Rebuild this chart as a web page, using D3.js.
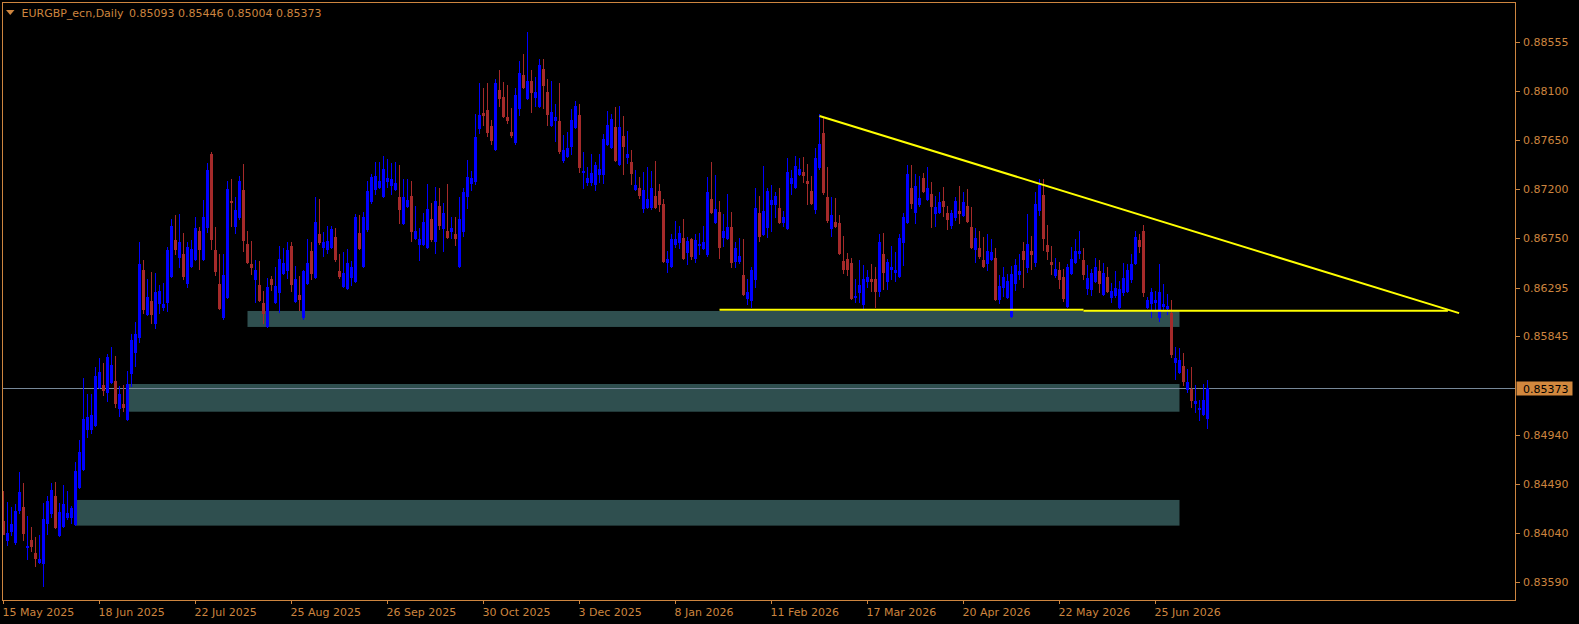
<!DOCTYPE html>
<html>
<head>
<meta charset="utf-8">
<script src="https://cdn.jsdelivr.net/npm/d3@7"></script>
<style>
  html, body { margin: 0; padding: 0; background: #000; overflow: hidden; }
  svg { display: block; }
  text { font-family: "DejaVu Sans", sans-serif; font-size: 11px; }
</style>
</head>
<body>
<svg id="chart" width="1579" height="624"></svg>
<script>
var symbol = 'EURGBP_ecn,Daily';

// daily OHLC, one entry per bar, oldest first (bar 0 = 15 May 2025)
var opens = [
  0.8415,0.8397,0.8406,0.8395,0.8425,0.8428,0.8391,0.8397,0.8385,0.8377,
  0.8376,0.8413,0.8422,0.8438,0.8402,0.8410,0.8418,0.8418,0.8412,0.8446,
  0.8463,0.8499,0.8499,0.8503,0.8538,0.8540,0.8533,0.8543,0.8544,0.8519,
  0.8522,0.8509,0.8551,0.8570,0.8584,0.8646,0.8605,0.8617,0.8597,0.8615,
  0.8612,0.8616,0.8640,0.8673,0.8658,0.8660,0.8634,0.8649,0.8656,0.8682,
  0.8656,0.8685,0.8752,0.8664,0.8633,0.8602,0.8621,0.8709,0.8686,0.8694,
  0.8719,0.8670,0.8651,0.8637,0.8632,0.8615,0.8594,0.8637,0.8616,0.8625,
  0.8643,0.8646,0.8668,0.8617,0.8623,0.8602,0.8634,0.8663,0.8639,0.8679,
  0.8667,0.8665,0.8667,0.8676,0.8645,0.8631,0.8629,0.8639,0.8636,0.8680,
  0.8649,0.8683,0.8709,0.8720,0.8722,0.8714,0.8728,0.8724,0.8720,0.8713,
  0.8689,0.8705,0.8714,0.8675,0.8670,0.8670,0.8667,0.8693,0.8672,0.8705,
  0.8684,0.8682,0.8682,0.8679,0.8649,0.8682,0.8714,0.8726,0.8728,0.8776,
  0.8790,0.8793,0.8778,0.8757,0.8811,0.8805,0.8786,0.8773,0.8763,0.8795,
  0.8825,0.8804,0.8820,0.8805,0.8797,0.8831,0.8809,0.8779,0.8784,0.8783,
  0.8747,0.8751,0.8760,0.8777,0.8788,0.8736,0.8727,0.8727,0.8725,0.8734,
  0.8734,0.8762,0.8759,0.8777,0.8743,0.8769,0.8750,0.8745,0.8720,0.8721,
  0.8703,0.8704,0.8704,0.8714,0.8718,0.8706,0.8653,0.8649,0.8670,0.8671,
  0.8675,0.8662,0.8674,0.8657,0.8669,0.8666,0.8660,0.8711,0.8690,0.8699,
  0.8676,0.8675,0.8685,0.8654,0.8654,0.8641,0.8620,0.8618,0.8637,0.8698,
  0.8679,0.8685,0.8706,0.8706,0.8703,0.8690,0.8684,0.8726,0.8722,0.8734,
  0.8736,0.8728,0.8718,0.8702,0.8740,0.8772,0.8713,0.8684,0.8690,0.8689,
  0.8654,0.8656,0.8652,0.8621,0.8625,0.8614,0.8636,0.8637,0.8637,0.8626,
  0.8660,0.8636,0.8647,0.8644,0.8640,0.8671,0.8690,0.8721,0.8699,0.8706,
  0.8730,0.8711,0.8716,0.8698,0.8699,0.8709,0.8698,0.8687,0.8694,0.8700,
  0.8696,0.8705,0.8685,0.8665,0.8666,0.8655,0.8652,0.8656,0.8657,0.8619,
  0.8630,0.8621,0.8603,0.8634,0.8642,0.8663,0.8648,0.8663,0.8653,0.8701,
  0.8715,0.8669,0.8653,0.8641,0.8646,0.8639,0.8613,0.8643,0.8653,0.8661,
  0.8655,0.8629,0.8628,0.8636,0.8645,0.8624,0.8639,0.8621,0.8623,0.8612,
  0.8625,0.8626,0.8637,0.8652,0.8673,0.8682,0.8612,0.8615,0.8616,0.8602,
  0.8613,0.8611,0.8606,0.8561,0.8552,0.8557,0.8536,0.8536,0.8523,0.8518,
  0.8513,0.85093
];
var highs = [
  0.8442,0.8432,0.8428,0.8430,0.8460,0.8450,0.8419,0.8409,0.8400,0.8402,
  0.8431,0.8438,0.8450,0.8451,0.8431,0.8448,0.8442,0.8429,0.8469,0.8489,
  0.8546,0.8532,0.8532,0.8556,0.8565,0.8560,0.8568,0.8575,0.8567,0.8539,
  0.8540,0.8553,0.8587,0.8598,0.8671,0.8655,0.8637,0.8644,0.8643,0.8632,
  0.8634,0.8667,0.8693,0.8696,0.8697,0.8680,0.8671,0.8673,0.8694,0.8685,
  0.8710,0.8744,0.8754,0.8685,0.8660,0.8660,0.8728,0.8729,0.8713,0.8732,
  0.8743,0.8682,0.8672,0.8655,0.8654,0.8626,0.8638,0.8640,0.8648,0.8668,
  0.8666,0.8671,0.8671,0.8649,0.8640,0.8646,0.8674,0.8671,0.8713,0.8711,
  0.8681,0.8686,0.8686,0.8684,0.8660,0.8662,0.8665,0.8654,0.8697,0.8696,
  0.8699,0.8728,0.8734,0.8745,0.8745,0.8751,0.8748,0.8744,0.8745,0.8742,
  0.8729,0.8729,0.8728,0.8705,0.8684,0.8698,0.8725,0.8707,0.8722,0.8721,
  0.8707,0.8725,0.8694,0.8694,0.8713,0.8721,0.8747,0.8737,0.8789,0.8818,
  0.8813,0.8818,0.8784,0.8821,0.8830,0.8819,0.8816,0.8795,0.8813,0.8838,
  0.8844,0.8865,0.8830,0.8823,0.8840,0.8840,0.8821,0.8820,0.8798,0.8818,
  0.8770,0.8773,0.8794,0.8801,0.8798,0.8754,0.8740,0.8752,0.8745,0.8752,
  0.8771,0.8792,0.8789,0.8796,0.8797,0.8787,0.8774,0.8756,0.8738,0.8731,
  0.8736,0.8740,0.8737,0.8746,0.8725,0.8711,0.8663,0.8679,0.8691,0.8686,
  0.8693,0.8676,0.8675,0.8679,0.8680,0.8686,0.8731,0.8745,0.8733,0.8709,
  0.8697,0.8716,0.8699,0.8671,0.8675,0.8674,0.8637,0.8648,0.8721,0.8714,
  0.8741,0.8721,0.8724,0.8717,0.8721,0.8700,0.8749,0.8738,0.8751,0.8749,
  0.8750,0.8743,0.8732,0.8758,0.8789,0.8786,0.8740,0.8713,0.8712,0.8696,
  0.8677,0.8661,0.8657,0.8637,0.8655,0.8650,0.8646,0.8651,0.8648,0.8679,
  0.8680,0.8656,0.8668,0.8662,0.8679,0.8698,0.8742,0.8742,0.8734,0.8732,
  0.8735,0.8740,0.8727,0.8714,0.8717,0.8722,0.8705,0.8701,0.8713,0.8723,
  0.8717,0.8720,0.8704,0.8684,0.8682,0.8676,0.8679,0.8674,0.8666,0.8641,
  0.8648,0.8642,0.8649,0.8656,0.8660,0.8671,0.8697,0.8677,0.8717,0.8729,
  0.8729,0.8687,0.8668,0.8657,0.8653,0.8647,0.8651,0.8667,0.8674,0.8682,
  0.8666,0.8650,0.8647,0.8657,0.8655,0.8652,0.8648,0.8634,0.8645,0.8636,
  0.8652,0.8651,0.8660,0.8682,0.8679,0.8687,0.8621,0.8629,0.8626,0.8651,
  0.8633,0.8624,0.8618,0.8575,0.8574,0.8569,0.8555,0.8556,0.8540,0.8526,
  0.8541,0.85446
];
var lows = [
  0.8403,0.8393,0.8402,0.8394,0.8422,0.8397,0.8380,0.8387,0.8373,0.8376,
  0.8355,0.8403,0.8418,0.8408,0.8401,0.8409,0.8417,0.8413,0.8411,0.8445,
  0.8462,0.8492,0.8496,0.8502,0.8537,0.8531,0.8525,0.8542,0.8520,0.8511,
  0.8516,0.8508,0.8539,0.8557,0.8579,0.8606,0.8604,0.8597,0.8592,0.8606,
  0.8609,0.8608,0.8639,0.8660,0.8648,0.8637,0.8630,0.8648,0.8655,0.8647,
  0.8655,0.8681,0.8665,0.8641,0.8610,0.8601,0.8620,0.8686,0.8680,0.8693,
  0.8663,0.8652,0.8642,0.8616,0.8617,0.8597,0.8593,0.8627,0.8615,0.8607,
  0.8642,0.8638,0.8626,0.8616,0.8609,0.8601,0.8633,0.8637,0.8638,0.8670,
  0.8659,0.8661,0.8666,0.8654,0.8638,0.8630,0.8628,0.8632,0.8635,0.8665,
  0.8648,0.8682,0.8707,0.8716,0.8721,0.8713,0.8722,0.8716,0.8719,0.8689,
  0.8688,0.8704,0.8672,0.8674,0.8655,0.8669,0.8666,0.8672,0.8661,0.8683,
  0.8663,0.8675,0.8675,0.8669,0.8648,0.8677,0.8703,0.8719,0.8725,0.8772,
  0.8779,0.8769,0.8762,0.8756,0.8797,0.8786,0.8781,0.8768,0.8762,0.8788,
  0.8813,0.8803,0.8791,0.8797,0.8796,0.8795,0.8779,0.8778,0.8764,0.8753,
  0.8745,0.8750,0.8752,0.8776,0.8736,0.8721,0.8724,0.8724,0.8719,0.8727,
  0.8726,0.8761,0.8758,0.8746,0.8742,0.8734,0.8744,0.8725,0.8719,0.8712,
  0.8699,0.8703,0.8702,0.8703,0.8700,0.8653,0.8644,0.8648,0.8667,0.8666,
  0.8656,0.8651,0.8656,0.8653,0.8660,0.8665,0.8659,0.8698,0.8689,0.8657,
  0.8668,0.8674,0.8648,0.8648,0.8652,0.8623,0.8614,0.8612,0.8630,0.8672,
  0.8678,0.8676,0.8682,0.8694,0.8689,0.8686,0.8683,0.8716,0.8721,0.8733,
  0.8727,0.8706,0.8706,0.8698,0.8739,0.8716,0.8690,0.8677,0.8685,0.8660,
  0.8643,0.8641,0.8619,0.8616,0.8616,0.8610,0.8630,0.8626,0.8612,0.8622,
  0.8628,0.8628,0.8637,0.8636,0.8639,0.8650,0.8689,0.8703,0.8689,0.8705,
  0.8717,0.8710,0.8685,0.8686,0.8698,0.8695,0.8683,0.8684,0.8692,0.8689,
  0.8695,0.8690,0.8666,0.8653,0.8657,0.8648,0.8646,0.8655,0.8618,0.8615,
  0.8622,0.8620,0.8602,0.8627,0.8637,0.8630,0.8644,0.8647,0.8649,0.8696,
  0.8664,0.8656,0.8642,0.8639,0.8629,0.8617,0.8612,0.8642,0.8652,0.8657,
  0.8637,0.8624,0.8623,0.8635,0.8625,0.8623,0.8625,0.8616,0.8621,0.8611,
  0.8623,0.8625,0.8635,0.8651,0.8662,0.8622,0.8611,0.8602,0.8609,0.8599,
  0.8610,0.8605,0.8566,0.8545,0.8551,0.8540,0.8533,0.8520,0.8515,0.8508,
  0.8512,0.85004
];
var closes = [
  0.8403,0.8404,0.8412,0.8424,0.8441,0.8404,0.8392,0.8392,0.8381,0.8380,
  0.8417,0.8433,0.8443,0.8409,0.8423,0.8430,0.8422,0.8427,0.8461,0.8478,
  0.8509,0.8510,0.8512,0.8548,0.8552,0.8535,0.8566,0.8558,0.8523,0.8532,
  0.8520,0.8541,0.8581,0.8587,0.8651,0.8610,0.8621,0.8605,0.8625,0.8626,
  0.8614,0.8664,0.8686,0.8665,0.8671,0.8640,0.8667,0.8665,0.8684,0.8665,
  0.8694,0.8738,0.8674,0.8645,0.8611,0.8641,0.8720,0.8708,0.8701,0.8728,
  0.8673,0.8653,0.8648,0.8646,0.8618,0.8606,0.8630,0.8633,0.8631,0.8656,
  0.8652,0.8664,0.8633,0.8637,0.8619,0.8645,0.8652,0.8643,0.8690,0.8671,
  0.8671,0.8672,0.8683,0.8656,0.8640,0.8643,0.8652,0.8648,0.8694,0.8666,
  0.8694,0.8718,0.8731,0.8732,0.8728,0.8739,0.8730,0.8729,0.8726,0.8702,
  0.8713,0.8710,0.8682,0.8682,0.8674,0.8690,0.8702,0.8674,0.8709,0.8687,
  0.8698,0.8676,0.8684,0.8675,0.8693,0.8717,0.8731,0.8730,0.8768,0.8788,
  0.8788,0.8773,0.8765,0.8818,0.8804,0.8787,0.8784,0.8770,0.8807,0.8827,
  0.8814,0.8820,0.8809,0.8809,0.8834,0.8816,0.8789,0.8791,0.8786,0.8755,
  0.8756,0.8758,0.8784,0.8797,0.8740,0.8737,0.8730,0.8735,0.8742,0.8739,
  0.8766,0.8779,0.8785,0.8747,0.8777,0.8760,0.8752,0.8735,0.8724,0.8715,
  0.8719,0.8711,0.8721,0.8704,0.8706,0.8654,0.8656,0.8674,0.8674,0.8680,
  0.8657,0.8672,0.8659,0.8673,0.8670,0.8671,0.8717,0.8699,0.8702,0.8667,
  0.8682,0.8685,0.8653,0.8666,0.8659,0.8624,0.8625,0.8646,0.8703,0.8677,
  0.8700,0.8718,0.8710,0.8714,0.8690,0.8694,0.8736,0.8730,0.8741,0.8739,
  0.8733,0.8726,0.8707,0.8749,0.8762,0.8717,0.8692,0.8696,0.8686,0.8661,
  0.8647,0.8647,0.8620,0.8622,0.8632,0.8637,0.8639,0.8636,0.8626,0.8671,
  0.8644,0.8653,0.8648,0.8646,0.8675,0.8694,0.8734,0.8707,0.8723,0.8712,
  0.8718,0.8721,0.8705,0.8704,0.8708,0.8705,0.8693,0.8698,0.8709,0.8698,
  0.8708,0.8691,0.8667,0.8675,0.8659,0.8649,0.8663,0.8662,0.8619,0.8631,
  0.8639,0.8636,0.8642,0.8650,0.8645,0.8656,0.8670,0.8660,0.8706,0.8724,
  0.8675,0.8663,0.8651,0.8647,0.8637,0.8620,0.8648,0.8656,0.8663,0.8663,
  0.8642,0.8638,0.8643,0.8648,0.8634,0.8643,0.8626,0.8626,0.8629,0.8628,
  0.8638,0.8646,0.8651,0.8676,0.8668,0.8625,0.8618,0.8625,0.8618,0.8625,
  0.8614,0.8613,0.8568,0.8565,0.8563,0.8544,0.8543,0.8526,0.8525,0.8519,
  0.8526,0.85373
];

// time axis: a label every 24 bars
var dateTickBars = [0, 24, 48, 72, 96, 120, 144, 168, 192, 216, 240, 264, 288];
var dateLabels = ['15 May 2025', '18 Jun 2025', '22 Jul 2025', '25 Aug 2025', '26 Sep 2025',
  '30 Oct 2025', '3 Dec 2025', '8 Jan 2026', '11 Feb 2026', '17 Mar 2026',
  '20 Apr 2026', '22 May 2026', '25 Jun 2026'];

// price axis
var priceTicks = [0.88555, 0.88100, 0.87650, 0.87200, 0.86750, 0.86295, 0.85845,
  0.84940, 0.84490, 0.84040, 0.83590];

// drawn objects: zones (bar from/to, price top/bottom) and lines (bar, price)
var zoneFrom   = [61, 31, 18];
var zoneTo     = [294, 294, 294];
var zoneTop    = [0.86080, 0.85408, 0.84341];
var zoneBottom = [0.85933, 0.85153, 0.84105];

var lineBars   = [[204, 363.9], [179, 270], [270, 361.1]];
var linePrices = [[0.87874, 0.86060], [0.86092, 0.86092], [0.86083, 0.86083]];

var fg = '#CD853F', bull = '#0000FF', bear = '#A52A2A';

var svg = d3.select('#chart');
var plotL = 2.5, plotR = 1515.5, plotT = 2.5, plotB = 600.5;

var x = d3.scaleLinear().domain([0, 378]).range([3.5, 1515.5]);
var y = d3.scaleLinear().domain([0.83416, 0.88918]).range([plotB, plotT]);

svg.append('rect').attr('width', 1579).attr('height', 624).attr('fill', '#000');

svg.append('clipPath').attr('id', 'plot')
  .append('rect').attr('x', plotL).attr('y', plotT)
  .attr('width', plotR - plotL).attr('height', plotB - plotT);

var plot = svg.append('g').attr('clip-path', 'url(#plot)');

// zones
plot.selectAll('rect.zone')
  .data(d3.range(zoneFrom.length))
  .enter().append('rect')
    .attr('class', 'zone')
    .attr('x', function (i) { return x(zoneFrom[i]); })
    .attr('width', function (i) { return x(zoneTo[i]) - x(zoneFrom[i]); })
    .attr('y', function (i) { return y(zoneTop[i]); })
    .attr('height', function (i) { return y(zoneBottom[i]) - y(zoneTop[i]); })
    .attr('fill', '#2F4F4F');

// bid line
var last = closes.length - 1;
var bidY = Math.round(y(closes[last])) + 0.5;
plot.append('line')
  .attr('x1', plotL).attr('x2', plotR)
  .attr('y1', bidY).attr('y2', bidY)
  .attr('stroke', '#778899').attr('stroke-width', 1);

// candles
var bars = d3.range(closes.length);
var candle = plot.selectAll('g.candle')
  .data(bars)
  .enter().append('g')
    .attr('class', 'candle')
    .attr('shape-rendering', 'crispEdges')
    .attr('fill', function (i) { return closes[i] >= opens[i] ? bull : bear; })
    .attr('stroke', function (i) { return closes[i] >= opens[i] ? bull : bear; });

candle.append('line')
  .attr('x1', function (i) { return x(i); })
  .attr('x2', function (i) { return x(i); })
  .attr('y1', function (i) { return Math.round(y(highs[i])); })
  .attr('y2', function (i) { return Math.round(y(lows[i])) + 1; })
  .attr('stroke-width', 1);

candle.append('rect')
  .attr('stroke', 'none')
  .attr('x', function (i) { return x(i) - 1.5; })
  .attr('width', 3)
  .attr('y', function (i) { return Math.round(y(Math.max(opens[i], closes[i]))); })
  .attr('height', function (i) {
    var h = Math.round(y(Math.min(opens[i], closes[i]))) - Math.round(y(Math.max(opens[i], closes[i])));
    return Math.max(1, h + 1);
  });

// trend lines
plot.selectAll('line.trend')
  .data(d3.range(lineBars.length))
  .enter().append('line')
    .attr('class', 'trend')
    .attr('x1', function (i) { return x(lineBars[i][0]); })
    .attr('x2', function (i) { return x(lineBars[i][1]); })
    .attr('y1', function (i) { return y(linePrices[i][0]); })
    .attr('y2', function (i) { return y(linePrices[i][1]); })
    .attr('stroke', '#FFFF00').attr('stroke-width', 2);

// frame
svg.append('path')
  .attr('d', 'M' + plotL + ',' + plotT + 'H' + plotR + 'V' + plotB + 'H' + plotL + 'Z')
  .attr('fill', 'none').attr('stroke', fg).attr('shape-rendering', 'crispEdges');

// price axis
var pa = svg.append('g');
pa.selectAll('line')
  .data(priceTicks).enter().append('line')
    .attr('x1', plotR).attr('x2', plotR + 4)
    .attr('y1', function (d) { return Math.round(y(d)) + 0.5; })
    .attr('y2', function (d) { return Math.round(y(d)) + 0.5; })
    .attr('stroke', fg).attr('shape-rendering', 'crispEdges');
pa.selectAll('text')
  .data(priceTicks).enter().append('text')
    .attr('x', plotR + 7.5)
    .attr('y', function (d) { return y(d) + 4; })
    .attr('fill', fg)
    .text(function (d) { return d.toFixed(5); });

// current price box
svg.append('rect')
  .attr('x', plotR + 1).attr('y', bidY - 7)
  .attr('width', 56).attr('height', 14)
  .attr('fill', '#D2883E');
svg.append('text')
  .attr('x', plotR + 7.5).attr('y', bidY + 4)
  .attr('fill', '#000')
  .text(closes[last].toFixed(5));

// time axis
var ta = svg.append('g');
ta.selectAll('line')
  .data(dateTickBars).enter().append('line')
    .attr('x1', function (d) { return x(d) - 0.5; })
    .attr('x2', function (d) { return x(d) - 0.5; })
    .attr('y1', plotB).attr('y2', plotB + 3)
    .attr('stroke', fg).attr('shape-rendering', 'crispEdges');
ta.selectAll('text')
  .data(dateTickBars).enter().append('text')
    .attr('x', function (d) { return x(d) - 1; })
    .attr('y', 615.5)
    .attr('fill', fg)
    .text(function (d, i) { return dateLabels[i]; });

// title
svg.append('path').attr('d', 'M6,10L14.5,10L10.25,15Z').attr('fill', fg);
svg.append('text').attr('x', 21.5).attr('y', 17).attr('fill', fg).text(symbol);
svg.append('text').attr('x', 129).attr('y', 17).attr('fill', fg)
  .text([opens[last], highs[last], lows[last], closes[last]].map(function (v) { return v.toFixed(5); }).join(' '));
</script>
</body>
</html>
